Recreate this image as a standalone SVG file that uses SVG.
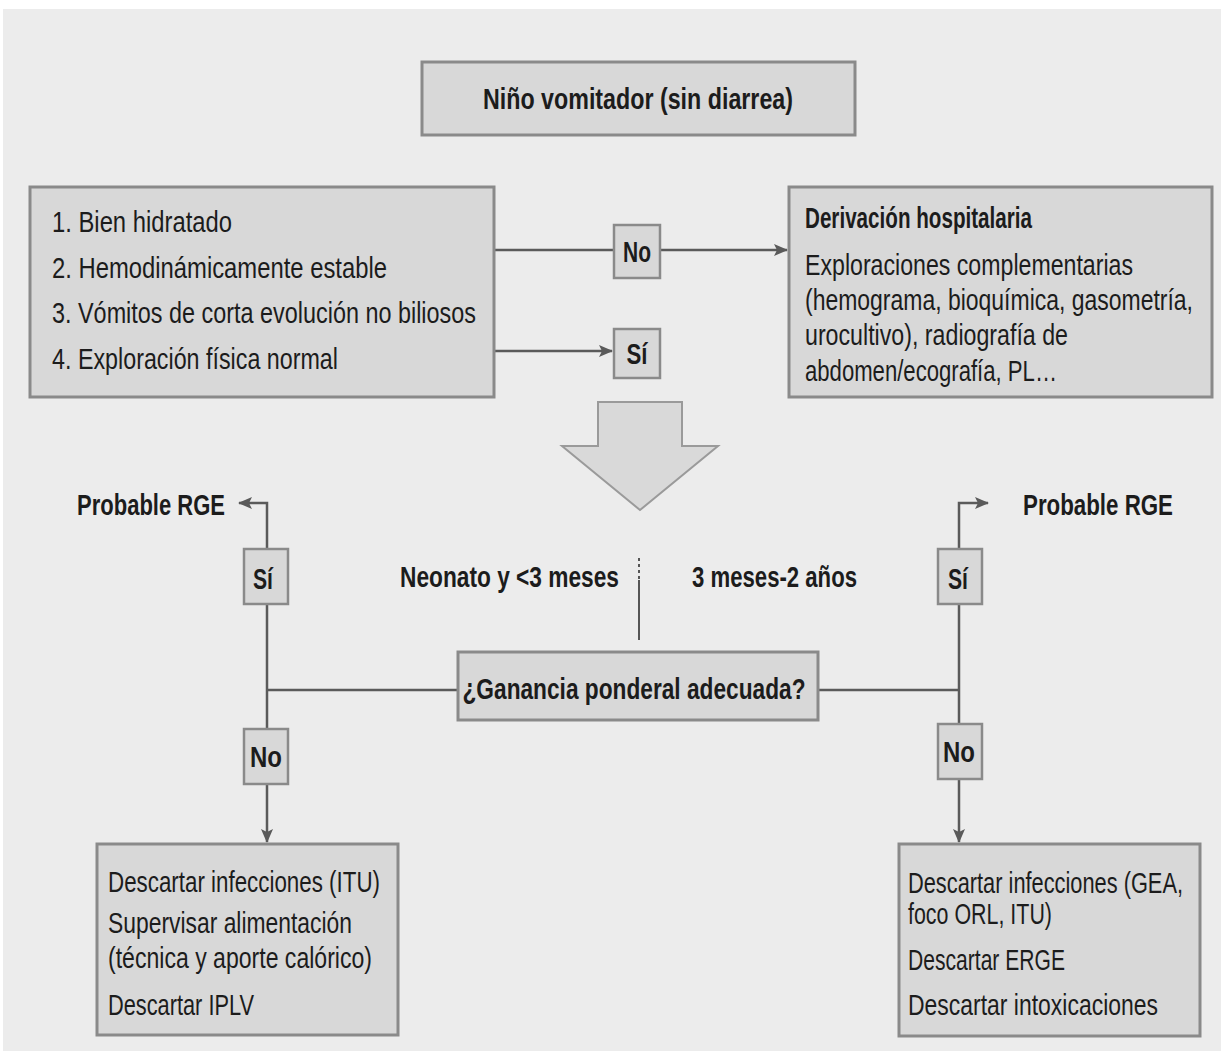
<svg xmlns="http://www.w3.org/2000/svg" width="1224" height="1059" viewBox="0 0 1224 1059">
<style>
.box{fill:#d8d8d8;stroke:#8a8a8a;stroke-width:3}
.lbl{fill:#d8d8d8;stroke:#8a8a8a;stroke-width:2.5}
.t{font-family:"Liberation Sans",Arial,sans-serif;font-size:29px;fill:#1c1c1c}
.b{font-weight:bold}
.ln{stroke:#5a5a5a;stroke-width:2.5;fill:none}
</style>
<defs>
<marker id="ah" markerWidth="14" markerHeight="12" refX="13" refY="6" orient="auto" markerUnits="userSpaceOnUse">
<path d="M0,0 L14,6 L0,12 L3,6 Z" fill="#5a5a5a"/>
</marker>
</defs>
<rect x="0" y="0" width="1224" height="1059" fill="#ffffff"/>
<rect x="3" y="9" width="1218" height="1042" fill="#ececec"/>

<g id="connectors">
<line class="ln" x1="494" y1="250" x2="614" y2="250"/>
<line class="ln" x1="660" y1="250" x2="787" y2="250" marker-end="url(#ah)"/>
<line class="ln" x1="494" y1="351" x2="612" y2="351" marker-end="url(#ah)"/>
<line stroke="#555" stroke-width="2" stroke-dasharray="3,3" x1="639" y1="558" x2="639" y2="580"/>
<line stroke="#555" stroke-width="2" x1="639" y1="580" x2="639" y2="640"/>
<line class="ln" x1="267" y1="690" x2="458" y2="690"/>
<line class="ln" x1="818" y1="690" x2="960" y2="690"/>
<polyline class="ln" points="267,549 267,503 239,503" marker-end="url(#ah)"/>
<line class="ln" x1="267" y1="604" x2="267" y2="729"/>
<line class="ln" x1="267" y1="784" x2="267" y2="842" marker-end="url(#ah)"/>
<polyline class="ln" points="959,549 959,503 988,503" marker-end="url(#ah)"/>
<line class="ln" x1="959" y1="604" x2="959" y2="724"/>
<line class="ln" x1="959" y1="779" x2="959" y2="842" marker-end="url(#ah)"/>
</g>

<g id="n-top">
<rect class="box" x="422" y="62" width="433" height="73"/>
<text class="t b" x="638" y="109" text-anchor="middle" textLength="310" lengthAdjust="spacingAndGlyphs">Niño vomitador (sin diarrea)</text>
</g>

<g id="n-criterios">
<rect class="box" x="30" y="187" width="464" height="210"/>
<text class="t" x="52" y="232" textLength="180" lengthAdjust="spacingAndGlyphs">1. Bien hidratado</text>
<text class="t" x="52" y="278" textLength="335" lengthAdjust="spacingAndGlyphs">2. Hemodinámicamente estable</text>
<text class="t" x="52" y="323" textLength="424" lengthAdjust="spacingAndGlyphs">3. Vómitos de corta evolución no biliosos</text>
<text class="t" x="52" y="369" textLength="286" lengthAdjust="spacingAndGlyphs">4. Exploración física normal</text>
</g>

<g id="n-no-top">
<rect class="lbl" x="614" y="225" width="46" height="53"/>
<text class="t b" x="637" y="262" text-anchor="middle" textLength="28" lengthAdjust="spacingAndGlyphs">No</text>
</g>

<g id="n-si-top">
<rect class="lbl" x="614" y="329" width="46" height="49"/>
<text class="t b" x="637" y="364" text-anchor="middle" textLength="21" lengthAdjust="spacingAndGlyphs">Sí</text>
</g>

<g id="n-derivacion">
<rect class="box" x="789" y="187" width="423" height="210"/>
<text class="t b" x="805" y="228" textLength="227" lengthAdjust="spacingAndGlyphs">Derivación hospitalaria</text>
<text class="t" x="805" y="275" textLength="328" lengthAdjust="spacingAndGlyphs">Exploraciones complementarias</text>
<text class="t" x="805" y="310" textLength="388" lengthAdjust="spacingAndGlyphs">(hemograma, bioquímica, gasometría,</text>
<text class="t" x="805" y="345" textLength="263" lengthAdjust="spacingAndGlyphs">urocultivo), radiografía de</text>
<text class="t" x="805" y="381" textLength="252" lengthAdjust="spacingAndGlyphs">abdomen/ecografía, PL…</text>
</g>

<g id="n-bigarrow">
<polygon points="598,402 682,402 682,446 718,446 640,510 562,446 598,446" fill="#d9d9d9" stroke="#9a9a9a" stroke-width="2"/>
</g>

<g id="n-edades">
<text class="t b" x="619" y="587" text-anchor="end" textLength="219" lengthAdjust="spacingAndGlyphs">Neonato y &lt;3 meses</text>
<text class="t b" x="692" y="587" textLength="165" lengthAdjust="spacingAndGlyphs">3 meses-2 años</text>
</g>

<g id="n-ganancia">
<rect class="box" x="458" y="652" width="360" height="68"/>
<text class="t b" x="634" y="699" text-anchor="middle" textLength="343" lengthAdjust="spacingAndGlyphs">¿Ganancia ponderal adecuada?</text>
</g>

<g id="n-rge-left">
<text class="t b" x="77" y="515" textLength="148" lengthAdjust="spacingAndGlyphs">Probable RGE</text>
</g>
<g id="n-rge-right">
<text class="t b" x="1023" y="515" textLength="150" lengthAdjust="spacingAndGlyphs">Probable RGE</text>
</g>

<g id="n-si-left">
<rect class="lbl" x="244" y="549" width="44" height="55"/>
<text class="t b" x="263" y="589" text-anchor="middle" textLength="20" lengthAdjust="spacingAndGlyphs">Sí</text>
</g>
<g id="n-no-left">
<rect class="lbl" x="244" y="729" width="44" height="55"/>
<text class="t b" x="266" y="767" text-anchor="middle" textLength="32" lengthAdjust="spacingAndGlyphs">No</text>
</g>
<g id="n-si-right">
<rect class="lbl" x="938" y="549" width="44" height="55"/>
<text class="t b" x="958" y="589" text-anchor="middle" textLength="20" lengthAdjust="spacingAndGlyphs">Sí</text>
</g>
<g id="n-no-right">
<rect class="lbl" x="938" y="724" width="44" height="55"/>
<text class="t b" x="959" y="762" text-anchor="middle" textLength="32" lengthAdjust="spacingAndGlyphs">No</text>
</g>

<g id="n-bottom-left">
<rect class="box" x="97" y="844" width="301" height="191"/>
<text class="t" x="108" y="892" textLength="272" lengthAdjust="spacingAndGlyphs">Descartar infecciones (ITU)</text>
<text class="t" x="108" y="933" textLength="244" lengthAdjust="spacingAndGlyphs">Supervisar alimentación</text>
<text class="t" x="108" y="968" textLength="264" lengthAdjust="spacingAndGlyphs">(técnica y aporte calórico)</text>
<text class="t" x="108" y="1015" textLength="146" lengthAdjust="spacingAndGlyphs">Descartar IPLV</text>
</g>

<g id="n-bottom-right">
<rect class="box" x="899" y="844" width="301" height="192"/>
<text class="t" x="908" y="893" textLength="275" lengthAdjust="spacingAndGlyphs">Descartar infecciones (GEA,</text>
<text class="t" x="908" y="924" textLength="144" lengthAdjust="spacingAndGlyphs">foco ORL, ITU)</text>
<text class="t" x="908" y="970" textLength="157" lengthAdjust="spacingAndGlyphs">Descartar ERGE</text>
<text class="t" x="908" y="1015" textLength="250" lengthAdjust="spacingAndGlyphs">Descartar intoxicaciones</text>
</g>
</svg>
